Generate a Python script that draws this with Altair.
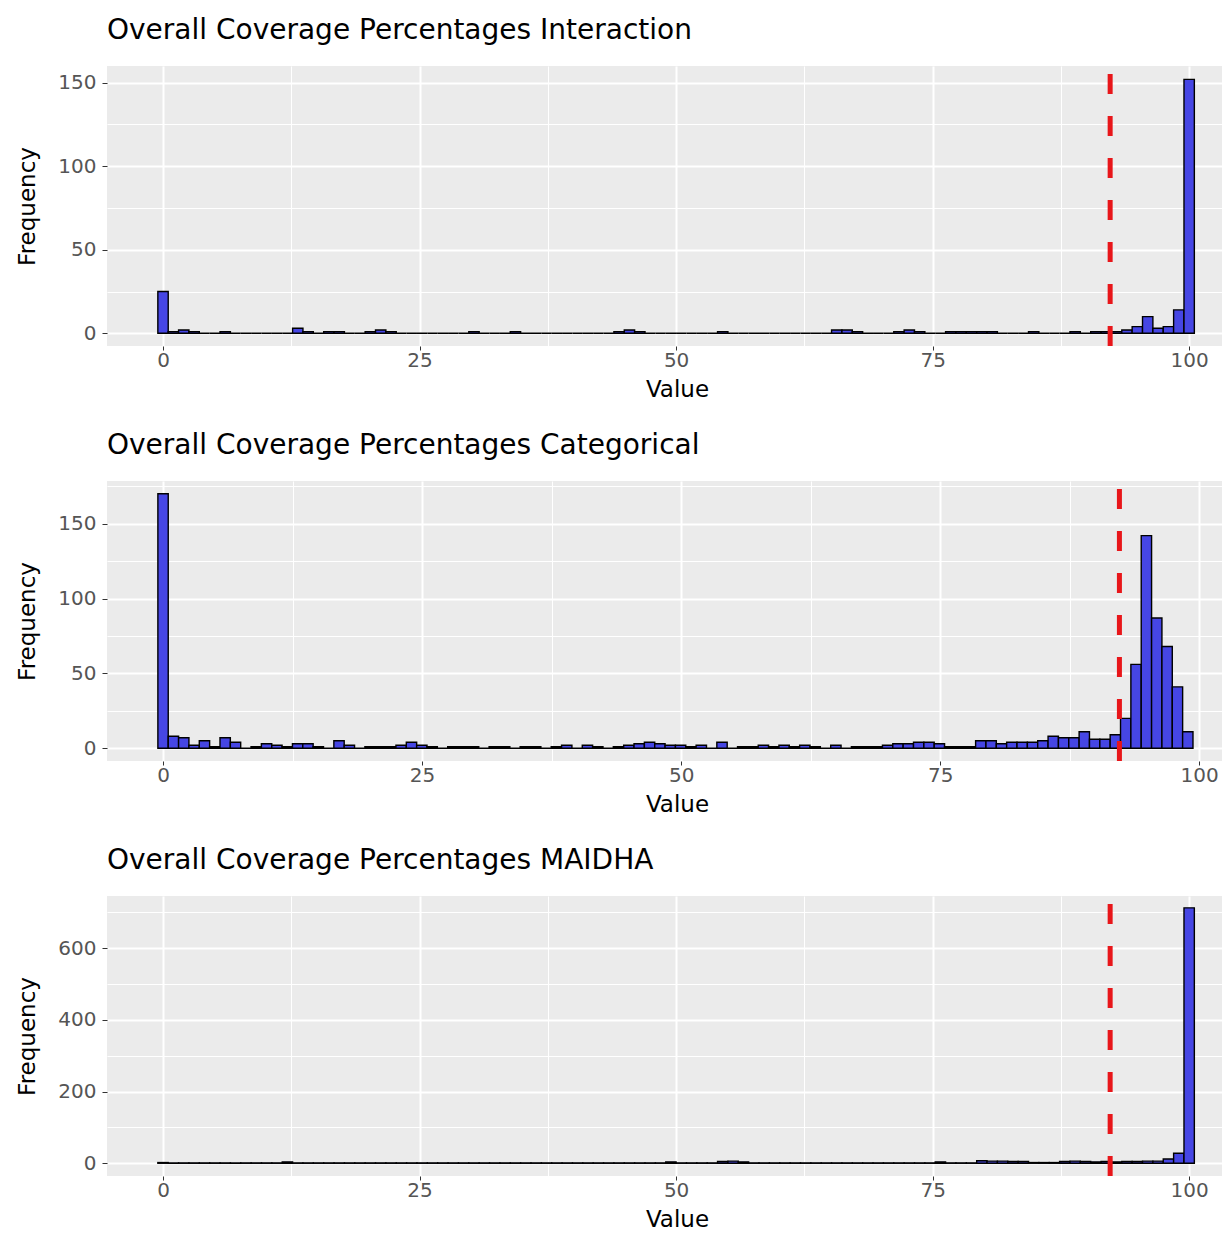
import altair as alt
import numpy as np
import pandas as pd

FONT = "DejaVu Sans"

titles = [
    "Overall Coverage Percentages Interaction",
    "Overall Coverage Percentages Categorical",
    "Overall Coverage Percentages MAIDHA",
]

# histogram counts, 100 bins each (bins)
interaction_counts = [
    25, 1, 2, 1, 0, 0, 1, 0, 0, 0,
    0, 0, 0, 3, 1, 0, 1, 1, 0, 0,
    1, 2, 1, 0, 0, 0, 0, 0, 0, 0,
    1, 0, 0, 0, 1, 0, 0, 0, 0, 0,
    0, 0, 0, 0, 1, 2, 1, 0, 0, 0,
    0, 0, 0, 0, 1, 0, 0, 0, 0, 0,
    0, 0, 0, 0, 0, 2, 2, 1, 0, 0,
    0, 1, 2, 1, 0, 0, 1, 1, 1, 1,
    1, 0, 0, 0, 1, 0, 0, 0, 1, 0,
    1, 1, 1, 2, 4, 10, 3, 4, 14, 152,
]
categorical_counts = [
    170, 8, 7, 2, 5, 1, 7, 4, 0, 1,
    3, 2, 1, 3, 3, 1, 0, 5, 2, 0,
    1, 1, 1, 2, 4, 2, 1, 0, 1, 1,
    1, 0, 1, 1, 0, 1, 1, 0, 1, 2,
    0, 2, 1, 0, 1, 2, 3, 4, 3, 2,
    2, 1, 2, 0, 4, 0, 1, 1, 2, 1,
    2, 1, 2, 1, 0, 2, 0, 1, 1, 1,
    2, 3, 3, 4, 4, 3, 1, 1, 1, 5,
    5, 3, 4, 4, 4, 5, 8, 7, 7, 11,
    6, 6, 9, 20, 56, 142, 87, 68, 41, 11,
]
maidha_counts = [
    2, 1, 1, 1, 1, 1, 1, 1, 1, 1,
    1, 1, 4, 1, 1, 1, 1, 1, 1, 1,
    1, 1, 1, 1, 1, 1, 1, 1, 1, 1,
    1, 1, 1, 1, 1, 1, 1, 1, 1, 1,
    1, 1, 1, 1, 1, 1, 1, 1, 1, 4,
    1, 1, 1, 1, 5, 6, 4, 1, 1, 1,
    1, 1, 1, 1, 1, 1, 1, 1, 1, 1,
    1, 1, 1, 1, 1, 4, 1, 1, 1, 7,
    6, 6, 5, 5, 2, 2, 2, 5, 6, 5,
    4, 5, 4, 5, 5, 6, 6, 12, 28, 712,
]
bin_ranges = [(0.0, 100.0), (0.0, 98.9), (0.0, 100.0)]
x_domains = [(-5.46, 103.2), (-5.41, 102.2), (-5.46, 103.2)]
y_domains = [(-7.6, 160.0), (-8.5, 178.5), (-35.5, 745.0)]
y_values = [
    [0, 25, 50, 75, 100, 125, 150],
    [0, 25, 50, 75, 100, 125, 150, 175],
    [0, 100, 200, 300, 400, 500, 600, 700],
]
y_major_step = [50, 50, 200]
x_values = [0, 12.5, 25, 37.5, 50, 62.5, 75, 87.5, 100]
threshold = [92.3]

W = 1115
H = 280
BAR_FILL = "#4646E4"


def make_xaxis():
    return alt.Axis(
        values=x_values,
        labelExpr="datum.value % 25 === 0 ? datum.label : ''",
        gridColor="white",
        gridWidth={"condition": {"test": "datum.value % 25 !== 0", "value": 1}, "value": 2},
        tickOpacity={"condition": {"test": "datum.value % 25 !== 0", "value": 0}, "value": 1},
        domain=False,
        tickColor="#333333",
        tickSize=4,
        labelPadding=0,
        labelFont=FONT,
        labelFontSize=20,
        labelColor="#555555",
        titleFont=FONT,
        titleFontSize=23,
        titleFontWeight="normal",
        titleColor="black",
        titlePadding=8,
        titleX=570,
    )


def panel(title, counts, brange, xdom, ydom, yvals, ystep):
    n = len(counts)
    lo, hi = brange
    bw = (hi - lo) / (n - 1)
    centers = lo + np.arange(n) * bw
    df = pd.DataFrame({"center": centers, "count": counts})
    df["x0"] = df["center"] - bw / 2
    df["x1"] = df["center"] + bw / 2

    yaxis = alt.Axis(
        values=yvals,
        labelExpr=f"datum.value % {ystep} === 0 ? datum.label : ''",
        gridColor="white",
        gridWidth={"condition": {"test": f"datum.value % {ystep} !== 0", "value": 1}, "value": 2},
        tickOpacity={"condition": {"test": f"datum.value % {ystep} !== 0", "value": 0}, "value": 1},
        domain=False,
        tickColor="#333333",
        tickSize=5,
        labelPadding=6,
        labelFont=FONT,
        labelFontSize=20,
        labelColor="#555555",
        titleFont=FONT,
        titleFontSize=23,
        titleFontWeight="normal",
        titleColor="black",
        titlePadding=8,
        minExtent=60,
        maxExtent=60,
    )
    xscale = alt.Scale(domain=list(xdom), nice=False, zero=False)
    yscale = alt.Scale(domain=list(ydom), nice=False, zero=False)

    bars = alt.Chart(df).mark_rect(
        fill=BAR_FILL, stroke="black", strokeWidth=1.4, clip=True
    ).encode(
        x=alt.X("x0:Q", scale=xscale, axis=make_xaxis(), title="Value"),
        x2="x1:Q",
        y=alt.Y("count:Q", scale=yscale, axis=yaxis, title="Frequency"),
        y2=alt.datum(0),
    )
    rule = alt.Chart(pd.DataFrame({"t": threshold})).mark_rule(
        color="#E8161A", strokeWidth=5, strokeDash=[20, 22]
    ).encode(
        x=alt.X("t:Q", scale=xscale, axis=make_xaxis(), title="Value"),
        y=alt.value(H),
        y2=alt.value(0),
    )
    return alt.layer(bars, rule).properties(
        width=W,
        height=H,
        title=alt.TitleParams(
            text=title,
            anchor="start",
            frame="group",
            font=FONT,
            fontSize=28,
            fontWeight="normal",
            color="black",
            baseline="bottom",
            offset=-9,
        ),
    )


all_counts = [interaction_counts, categorical_counts, maidha_counts]
panels = [
    panel(titles[i], all_counts[i], bin_ranges[i], x_domains[i], y_domains[i], y_values[i], y_major_step[i])
    for i in range(3)
]

chart = alt.vconcat(*panels, spacing=30).properties(
    padding={"left": 8, "top": 8, "right": 0, "bottom": 0},
    background="white",
).configure_view(fill="#EBEBEB", strokeWidth=0)

chart.save("out.html", embed_options={"renderer": "svg", "actions": False})
